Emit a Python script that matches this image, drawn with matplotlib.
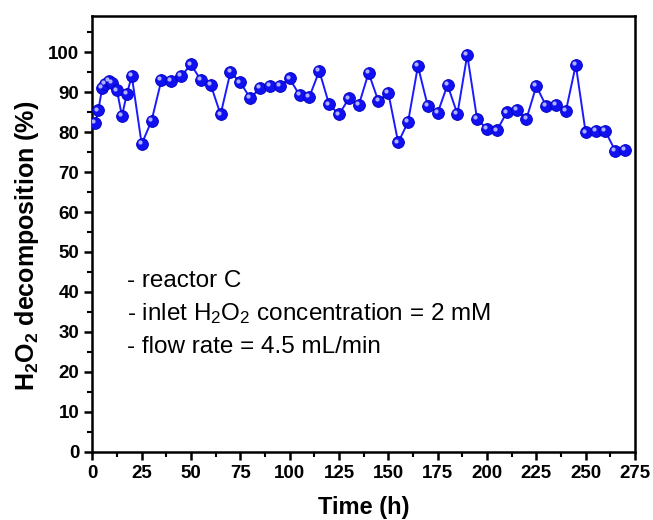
import numpy as np
import matplotlib.pyplot as plt
from matplotlib.ticker import MultipleLocator
import matplotlib.transforms as mtransforms

plt.rcParams['font.family'] = 'Liberation Sans'
plt.rcParams['mathtext.default'] = 'regular'

# Données
time_h = [1.5, 3, 5, 6.5, 8.5, 10, 12.5, 15, 17.5, 20,
          25, 30, 35, 40, 45, 50, 55, 60, 65, 70,
          75, 80, 85, 90, 95, 100, 105, 110, 115, 120,
          125, 130, 135, 140, 145, 150, 155, 160, 165, 170,
          175, 180, 185, 190, 195, 200, 205, 210, 215, 220,
          225, 230, 235, 240, 245, 250, 255, 260, 265, 270]
decomposition = [82.3, 85.4, 91.0, 92.0, 92.8, 92.2, 90.4, 84.0, 89.6, 94.0,
                 77.0, 82.8, 93.0, 92.8, 94.0, 96.9, 93.0, 91.8, 84.4, 95.0,
                 92.4, 88.5, 91.0, 91.5, 91.5, 93.4, 89.2, 88.8, 95.3, 86.9,
                 84.4, 88.4, 86.7, 94.8, 87.7, 89.8, 77.4, 82.5, 96.5, 86.5,
                 84.8, 91.8, 84.5, 99.3, 83.2, 80.8, 80.4, 84.9, 85.5, 83.3,
                 91.5, 86.5, 86.8, 85.3, 96.8, 79.9, 80.2, 80.2, 75.3, 75.6]

x_ticks = np.arange(0, 276, 25)
y_ticks = np.arange(0, 101, 10)

fig = plt.figure(figsize=(6.53, 5.2), dpi=100)
ax = fig.add_axes([0.1414, 0.131, 0.831, 0.838])

ax.plot(time_h, decomposition, '-', color='#1a1aff', lw=1.4, zorder=2)
ax.plot(time_h, decomposition, 'o', ms=8.5, mfc='#1010f0', mec='#0000c0', mew=0.6, zorder=3)
# petit reflet pour l'effet sphère
reflet = ax.transData + mtransforms.ScaledTranslation(-1.4/72, 1.4/72, fig.dpi_scale_trans)
ax.plot(time_h, decomposition, 'o', ms=3, mfc='#b0b0ff', mec='none', transform=reflet, zorder=4)

ax.set_xlim(0, 275)
ax.set_ylim(0, 109)
ax.set_xticks(x_ticks)
ax.set_yticks(y_ticks)
ax.xaxis.set_minor_locator(MultipleLocator(12.5))
ax.yaxis.set_minor_locator(MultipleLocator(5))
ax.tick_params(which='major', direction='out', length=6, width=1.8, labelsize=13.5, top=False, right=False)
ax.tick_params(which='minor', direction='out', length=3.5, width=1.5, top=False, right=False)
for lab in ax.get_xticklabels() + ax.get_yticklabels():
    lab.set_fontweight('bold')
for s in ax.spines.values():
    s.set_linewidth(1.8)

ax.set_xlabel('Time (h)', fontsize=17, fontweight='bold', labelpad=10)
ax.set_ylabel('H$_2$O$_2$ decomposition (%)', fontsize=18, fontweight='bold')
ax.yaxis.set_label_coords(-0.094, 0.472)

ax.text(0.064, 0.391, '- reactor C', transform=ax.transAxes, fontsize=17.5, va='center')
ax.text(0.064, 0.318, '- inlet H$_2$O$_2$ concentration = 2 mM', transform=ax.transAxes, fontsize=17.5, va='center')
ax.text(0.064, 0.241, '- flow rate = 4.5 mL/min', transform=ax.transAxes, fontsize=17.5, va='center')

fig.savefig('out.png', dpi=100)
